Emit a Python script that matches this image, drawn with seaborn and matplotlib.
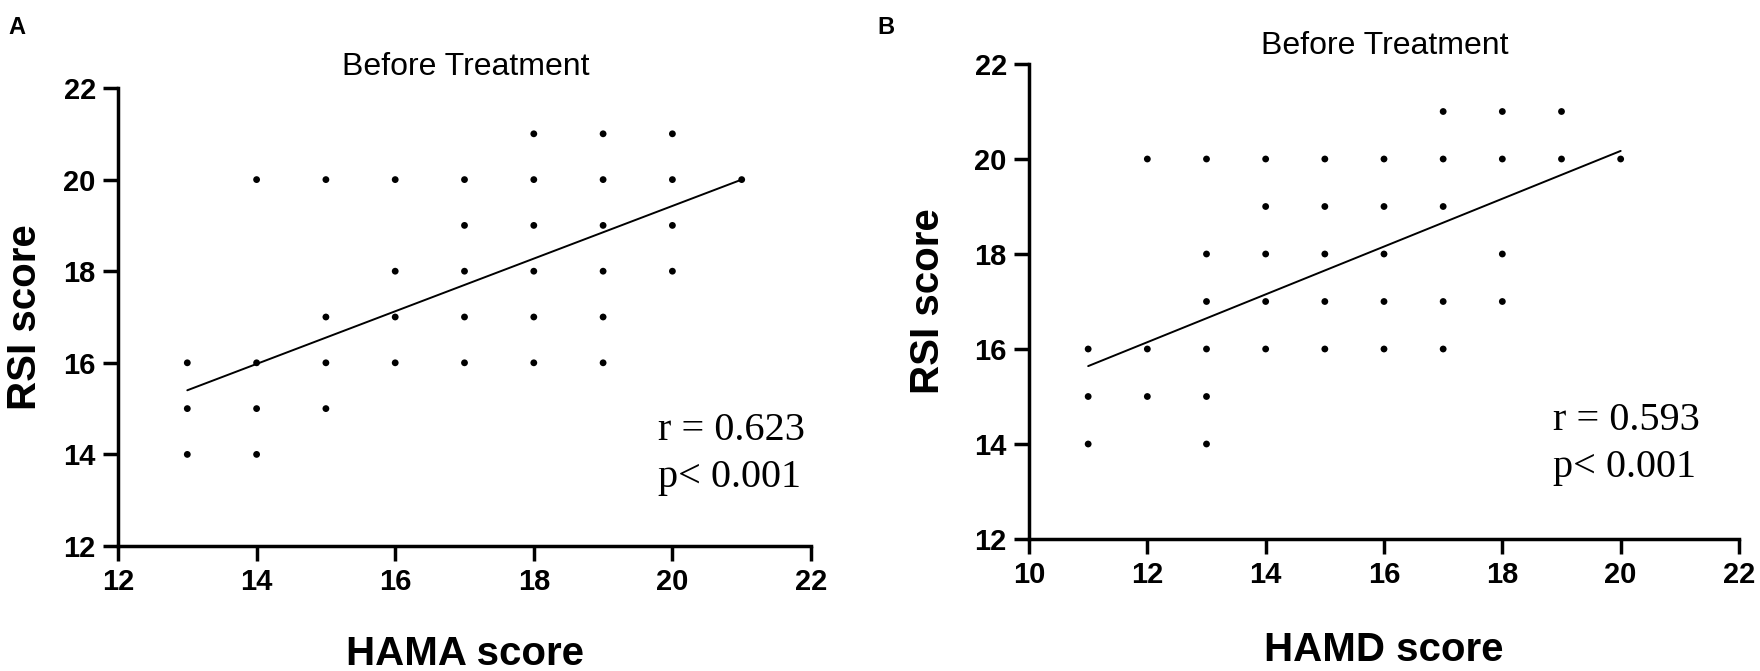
import numpy as np
import pandas as pd
import seaborn as sns
import matplotlib.pyplot as plt

# panel A: HAMA vs RSI (before treatment)
hama_x = [13, 13, 13,
          14, 14, 14, 14,
          15, 15, 15, 15,
          16, 16, 16, 16,
          17, 17, 17, 17, 17,
          18, 18, 18, 18, 18, 18,
          19, 19, 19, 19, 19, 19,
          20, 20, 20, 20,
          21]
hama_rsi = [16, 15, 14,
            20, 16, 15, 14,
            20, 17, 16, 15,
            20, 18, 17, 16,
            20, 19, 18, 17, 16,
            21, 20, 19, 18, 17, 16,
            21, 20, 19, 18, 17, 16,
            21, 20, 19, 18,
            20]
# fitted line as drawn in the figure
hama_fit_x = [13, 21]
hama_fit_y = [15.4, 20.0]

# panel B: HAMD vs RSI (before treatment)
hamd_x = [11, 11, 11,
          12, 12, 12,
          13, 13, 13, 13, 13, 13,
          14, 14, 14, 14, 14,
          15, 15, 15, 15, 15,
          16, 16, 16, 16, 16,
          17, 17, 17, 17, 17,
          18, 18, 18, 18,
          19, 19,
          20]
hamd_rsi = [16, 15, 14,
            20, 16, 15,
            20, 18, 17, 16, 15, 14,
            20, 19, 18, 17, 16,
            20, 19, 18, 17, 16,
            20, 19, 18, 17, 16,
            21, 20, 19, 17, 16,
            21, 20, 18, 17,
            21, 20,
            20]
hamd_fit_x = [11, 20]
hamd_fit_y = [15.64, 20.17]

ticks_a = [12, 14, 16, 18, 20, 22]
ticks_b = [10, 12, 14, 16, 18, 20, 22]
y_ticks = [12, 14, 16, 18, 20, 22]

sns.set_theme(style="ticks")
plt.rcParams['font.family'] = ['Liberation Sans', 'DejaVu Sans']
plt.rcParams.update({"text.color": "black", "axes.labelcolor": "black",
                     "xtick.color": "black", "ytick.color": "black"})

W, H = 1760, 671
fig = plt.figure(figsize=(W / 100, H / 100), dpi=100)


def px_axes(left, top, right, bottom):
    return fig.add_axes([left / W, 1 - bottom / H, (right - left) / W, (bottom - top) / H])


ax_a = px_axes(118, 88, 811, 546)
ax_b = px_axes(1029, 64, 1739, 539)

panels = [
    (ax_a, hama_x, hama_rsi, hama_fit_x, hama_fit_y, ticks_a, "HAMA score", "r = 0.623",
     (658, 430), 28, 14),
    (ax_b, hamd_x, hamd_rsi, hamd_fit_x, hamd_fit_y, ticks_b, "HAMD score", "r = 0.593",
     (1553, 420), 30, 20),
]

for ax, xs, ys, fx, fy, xt, xlab, rtxt, (tx, ty), xpad, ypad in panels:
    df = pd.DataFrame({"x": xs, "y": ys})
    sns.scatterplot(data=df, x="x", y="y", color="black", s=24, edgecolor="none", ax=ax)
    sns.lineplot(x=fx, y=fy, color="black", linewidth=1.4, ax=ax)
    ax.set_xlim(xt[0], xt[-1])
    ax.set_ylim(12, 22)
    ax.set_xticks(xt)
    ax.set_yticks(y_ticks)
    ax.set_xlabel(xlab, fontsize=29, fontweight="bold", labelpad=xpad)
    ax.set_ylabel("RSI score", fontsize=29, fontweight="bold", labelpad=ypad)
    ax.tick_params(axis="both", labelsize=21, length=11, width=2.5, color="black", pad=5)
    for lab in ax.get_xticklabels() + ax.get_yticklabels():
        lab.set_fontweight("bold")
    sns.despine(ax=ax)
    for side in ["left", "bottom"]:
        ax.spines[side].set_linewidth(2.5)
        ax.spines[side].set_color("black")
        ax.spines[side].set_clip_on(False)
    ax.text(tx / W, 1 - ty / H, rtxt, transform=fig.transFigure, fontsize=29,
            family=["Liberation Serif", "DejaVu Serif"], ha="left", va="center")
    ax.text(tx / W, 1 - (ty + 47) / H, "p< 0.001", transform=fig.transFigure, fontsize=29,
            family=["Liberation Serif", "DejaVu Serif"], ha="left", va="center")

fig.text(466 / W, 1 - 67 / H, "Before Treatment", fontsize=23, ha="center", va="center")
fig.text(1385 / W, 1 - 46 / H, "Before Treatment", fontsize=23, ha="center", va="center")
fig.text(17 / W, 1 - 28 / H, "A", fontsize=17, fontweight="bold", ha="center", va="center")
fig.text(886 / W, 1 - 28 / H, "B", fontsize=17, fontweight="bold", ha="center", va="center")

fig.savefig("out.png", dpi=100)
